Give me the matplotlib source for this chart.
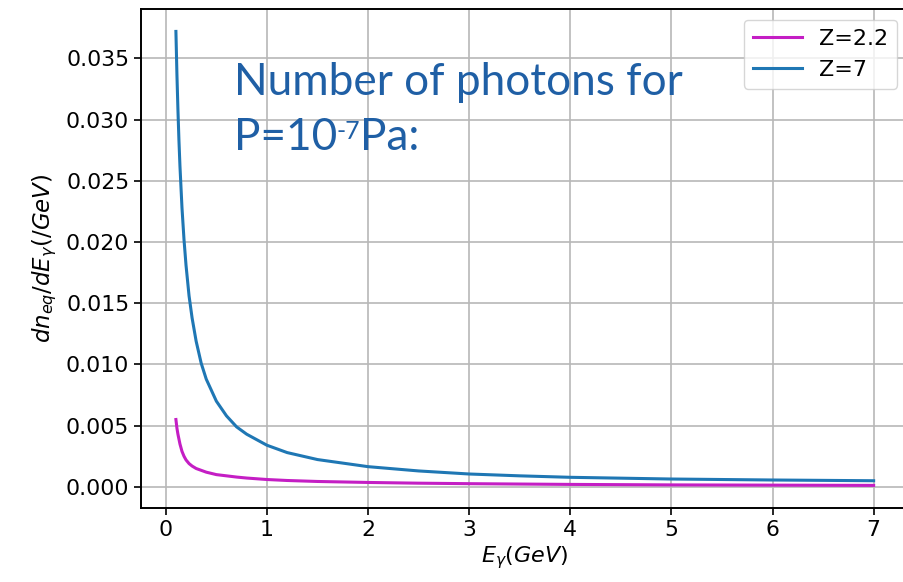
import matplotlib
matplotlib.use("Agg")
import matplotlib.pyplot as plt

# photon energy (GeV) and spectra
e_gamma = [0.1, 0.11, 0.12, 0.13, 0.14, 0.16, 0.18, 0.2, 0.23, 0.26, 0.3, 0.35, 0.4,
           0.5, 0.6, 0.7, 0.8, 1.0, 1.2, 1.5, 2.0, 2.5, 3.0, 3.5, 4.0, 5.0, 6.0, 7.0]
dn_z22 = [0.0055, 0.0048, 0.0043, 0.0039, 0.0035, 0.0029, 0.0025, 0.0022, 0.0019, 0.0017,
          0.0015, 0.00135, 0.0012, 0.001, 0.0009, 0.0008, 0.00072, 0.0006, 0.00052, 0.00044,
          0.00036, 0.0003, 0.00026, 0.00023, 0.0002, 0.00016, 0.00014, 0.00012]
dn_z7 = [0.0372, 0.0337, 0.0308, 0.0283, 0.0262, 0.0228, 0.0202, 0.0181, 0.0156, 0.0138,
         0.0119, 0.0101, 0.0088, 0.0070, 0.0058, 0.0049, 0.0043, 0.0034, 0.0028, 0.00223,
         0.00165, 0.0013, 0.00105, 0.0009, 0.00078, 0.00064, 0.00056, 0.0005]
labels = ["Z=2.2", "Z=7"]

plt.rcParams["font.size"] = 15.8
plt.rcParams["axes.linewidth"] = 1.4
plt.rcParams["xtick.major.size"] = 5
plt.rcParams["ytick.major.size"] = 5
plt.rcParams["xtick.major.width"] = 1.2
plt.rcParams["ytick.major.width"] = 1.2

fig = plt.figure(figsize=(9.04, 5.82), dpi=100)
ax = fig.add_axes([0.156, 0.127, 0.849, 0.858])

ax.plot(e_gamma, dn_z22, color="#c41ec4", lw=2.2, label=labels[0])
ax.plot(e_gamma, dn_z7, color="#1f77b4", lw=2.2, label=labels[1])

ax.set_xticks(range(8))
ax.set_yticks([0, 0.005, 0.01, 0.015, 0.02, 0.025, 0.03, 0.035])
ax.yaxis.set_major_formatter(matplotlib.ticker.FormatStrFormatter("%.3f"))
ax.grid(True, color="#b8b8b8", lw=1.2)
ax.set_xlabel(r"$E_{\gamma}(GeV)$", fontsize=16, labelpad=3)
ax.set_ylabel(r"$dn_{eq}/dE_{\gamma}(/GeV)$", fontsize=16.5, labelpad=5)
ax.legend(loc="upper right", fontsize=16, handlelength=2.2)

# overlaid note
note = dict(color="#1f5fa5", fontsize=31.8, family=["Lato", "DejaVu Sans"])
t1 = ax.text(0.67, 0.0320, "Number of photons for", va="baseline", **note)
t2 = ax.text(0.67, 0.0275, "P=10", va="baseline", **note)
t3 = ax.annotate("-7", xy=(1, 0.93), xycoords=t2, va="top", ha="left",
                 color=note["color"], fontsize=18, family=note["family"])
ax.annotate("Pa:", xy=(1, 0), xycoords=(t3, t2), va="bottom", ha="left", **note)

fig.savefig("out.png", dpi=100)
